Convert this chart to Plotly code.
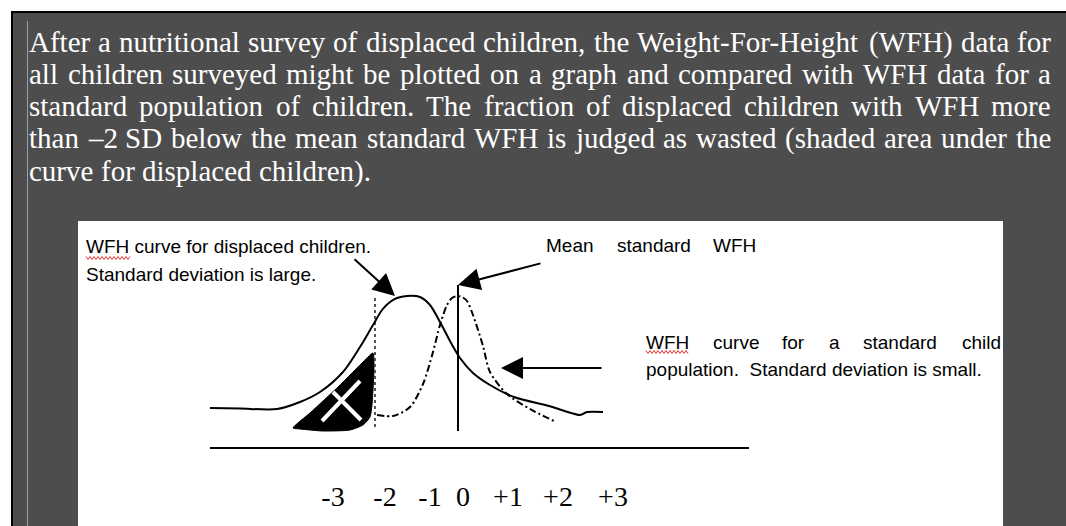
import plotly.graph_objects as go

W, H = 1066, 526

# ---- paragraph text (justified, last line ragged) ----
para_lines = [
    "After a nutritional survey of displaced children, the Weight-For-Height (WFH) data for",
    "all children surveyed might be plotted on a graph and compared with WFH data for a",
    "standard population of children. The fraction of displaced children with WFH more",
    "than \u20132 SD below the mean standard WFH is judged as wasted (shaded area under the",
    "curve for displaced children).",
]
para_y = [42, 74, 106, 138, 171]

# ---- diagram data (image pixel units, y grows downward) ----
displaced_x = [210, 240, 277, 300, 320, 343, 360, 373, 382, 390, 397, 407, 420, 430, 440, 450, 460, 473, 490, 514, 549, 580, 587, 603]
displaced_y = [408, 408.5, 409, 402, 392, 372, 347, 325, 310, 302, 298, 296, 297, 305, 322, 341, 358, 373, 385, 397, 406, 415, 412, 412]

standard_x = [377, 393, 410, 423, 433, 440, 447, 452, 457, 462, 467, 473, 483, 490, 507, 530, 554]
standard_y = [415, 416, 407, 384, 352, 325, 305, 298, 296, 297, 301, 315, 346, 372, 394, 409, 421]

shade_x = [293, 310, 323, 338, 350, 362, 373, 374, 373, 372, 370, 363, 350, 323, 300, 293]
shade_y = [428, 413, 401, 387, 375, 363, 353, 370, 390, 405, 417, 425, 430, 431, 429, 428]

cross_a_x, cross_a_y = [322, 360], [421, 381]
cross_b_x, cross_b_y = [333, 361], [392, 420]

cutoff_x, cutoff_y = [375, 375], [298, 428]
mean_x, mean_y = [458, 458], [285, 431]
baseline_x, baseline_y = [210, 749], [448, 448]

sd_labels = ["-3", "-2", "-1", "0", "+1", "+2", "+3"]
sd_label_x = [333, 385, 430, 463, 508, 558, 613]
sd_label_y = 499

# Times New Roman advance widths (1/1000 em), used to justify the paragraph
TIMES = {' ': 250, '(': 333, ')': 333, ',': 250, '-': 333, '.': 250, '\u2013': 500,
         'A': 722, 'D': 722, 'F': 556, 'H': 722, 'S': 556, 'T': 611, 'W': 944,
         'a': 444, 'b': 500, 'c': 444, 'd': 500, 'e': 444, 'f': 333, 'g': 500, 'h': 500,
         'i': 278, 'j': 278, 'k': 500, 'l': 278, 'm': 778, 'n': 500, 'o': 500, 'p': 500,
         'q': 500, 'r': 333, 's': 389, 't': 278, 'u': 500, 'v': 500, 'w': 722, 'x': 500,
         'y': 500, 'z': 444}
for d in '0123456789':
    TIMES[d] = 500


def word_width(word, size):
    return sum(TIMES.get(c, 500) for c in word) * size / 1000


def justified_line(line, y, size, x0, x1, full=True):
    words = line.split(' ')
    widths = [word_width(w, size) for w in words]
    if full and len(words) > 1:
        gap = (x1 - x0 - sum(widths)) / (len(words) - 1)
    else:
        gap = TIMES[' '] * size / 1000
    out, x = [], x0
    for w, wd in zip(words, widths):
        out.append(dict(x=x / W, y=1 - y / H, xref='paper', yref='paper', xanchor='left', yanchor='middle',
                        text=w, showarrow=False, borderpad=0, borderwidth=0,
                        font=dict(family='Liberation Serif', size=size, color='white')))
        x += wd + gap
    return out


def squiggle(x0, x1, y, amp=1.5, step=2):
    pts, x, up = [], x0, True
    while x <= x1:
        pts.append(f"{x},{y - amp if up else y + amp}")
        x += step
        up = not up
    return "M" + " L".join(pts)


fig = go.Figure()

fig.add_trace(go.Scatter(x=shade_x, y=shade_y, mode='lines', fill='toself', fillcolor='black',
                         line=dict(color='black', width=1, shape='spline', smoothing=0.6)))
fig.add_trace(go.Scatter(x=cross_a_x, y=cross_a_y, mode='lines', line=dict(color='white', width=4)))
fig.add_trace(go.Scatter(x=cross_b_x, y=cross_b_y, mode='lines', line=dict(color='white', width=4)))
fig.add_trace(go.Scatter(x=cutoff_x, y=cutoff_y, mode='lines', line=dict(color='#555555', width=2, dash='dot')))
fig.add_trace(go.Scatter(x=displaced_x, y=displaced_y, mode='lines',
                         line=dict(color='black', width=2, shape='spline', smoothing=0.8)))
fig.add_trace(go.Scatter(x=standard_x, y=standard_y, mode='lines',
                         line=dict(color='black', width=2, shape='spline', smoothing=0.8, dash='7px,3px,2px,3px')))
fig.add_trace(go.Scatter(x=mean_x, y=mean_y, mode='lines', line=dict(color='black', width=2)))
fig.add_trace(go.Scatter(x=baseline_x, y=baseline_y, mode='lines', line=dict(color='black', width=2)))
fig.add_trace(go.Scatter(x=sd_label_x, y=[sd_label_y] * len(sd_labels), mode='text', text=sd_labels,
                         textposition='middle center',
                         textfont=dict(family='Liberation Serif', size=28, color='black')))

annotations = []
for i, (line, y) in enumerate(zip(para_lines, para_y)):
    annotations += justified_line(line, y, 29, 29, 1051, full=i < len(para_lines) - 1)

sans = dict(family='Liberation Sans', size=19, color='black')
diagram_text = [
    ("WFH curve for displaced children.", 86, 246),
    ("Standard deviation is large.", 86, 274),
    ("Mean", 546, 245), ("standard", 617, 245), ("WFH", 713, 245),
    ("WFH", 646, 342), ("curve", 713, 342), ("for", 782, 342), ("a", 829, 342),
    ("standard", 863, 342), ("child", 962, 342),
    ("population.  Standard deviation is small.", 646, 369),
]
for txt, x, y in diagram_text:
    annotations.append(dict(x=x, y=y, xref='x', yref='y', xanchor='left', yanchor='middle', text=txt,
                            showarrow=False, borderpad=0, borderwidth=0, font=sans))

arrows = [((395, 296), (353, 258)), ((458, 285), (542, 263)), ((501, 368), (603, 368))]
for (tx, ty), (sx, sy) in arrows:
    annotations.append(dict(x=tx, y=ty, ax=sx, ay=sy, xref='x', yref='y', axref='x', ayref='y', text='',
                            showarrow=True, arrowhead=2, arrowsize=2.2, arrowwidth=2, arrowcolor='black'))

shapes = [
    dict(type='rect', xref='paper', yref='paper', x0=12 / W, x1=1.1, y0=-0.1, y1=1 - 12 / H,
         fillcolor='#4d4d4d', line=dict(color='black', width=2), layer='below'),
    dict(type='line', xref='paper', yref='paper', x0=27.5 / W, x1=27.5 / W, y0=-0.01, y1=1 - 21 / H,
         line=dict(color='#a0a0a0', width=1), layer='below'),
    dict(type='rect', xref='paper', yref='paper', x0=78 / W, x1=1003 / W, y0=-0.01, y1=1 - 221 / H,
         fillcolor='white', line=dict(width=0), layer='below'),
    dict(type='path', xref='x', yref='y', path=squiggle(86, 130, 258), line=dict(color='#e03030', width=1)),
    dict(type='path', xref='x', yref='y', path=squiggle(646, 689, 352), line=dict(color='#e03030', width=1)),
]

fig.update_layout(
    width=W, height=H, autosize=False,
    margin=dict(l=0, r=0, t=0, b=0, pad=0),
    paper_bgcolor='white', plot_bgcolor='rgba(0,0,0,0)',
    showlegend=False, hovermode=False,
    xaxis=dict(domain=[78 / W, 1003 / W], range=[78, 1003], visible=False),
    yaxis=dict(domain=[0, (H - 221) / H], range=[H, 221], visible=False),
    annotations=annotations, shapes=shapes,
)

# the page body has a default 8px margin; drop it so the figure sits at the window's corner
fig.write_html("out.html", config=dict(displayModeBar=False),
               post_script="document.body.style.margin='0';document.body.style.overflow='hidden';")
